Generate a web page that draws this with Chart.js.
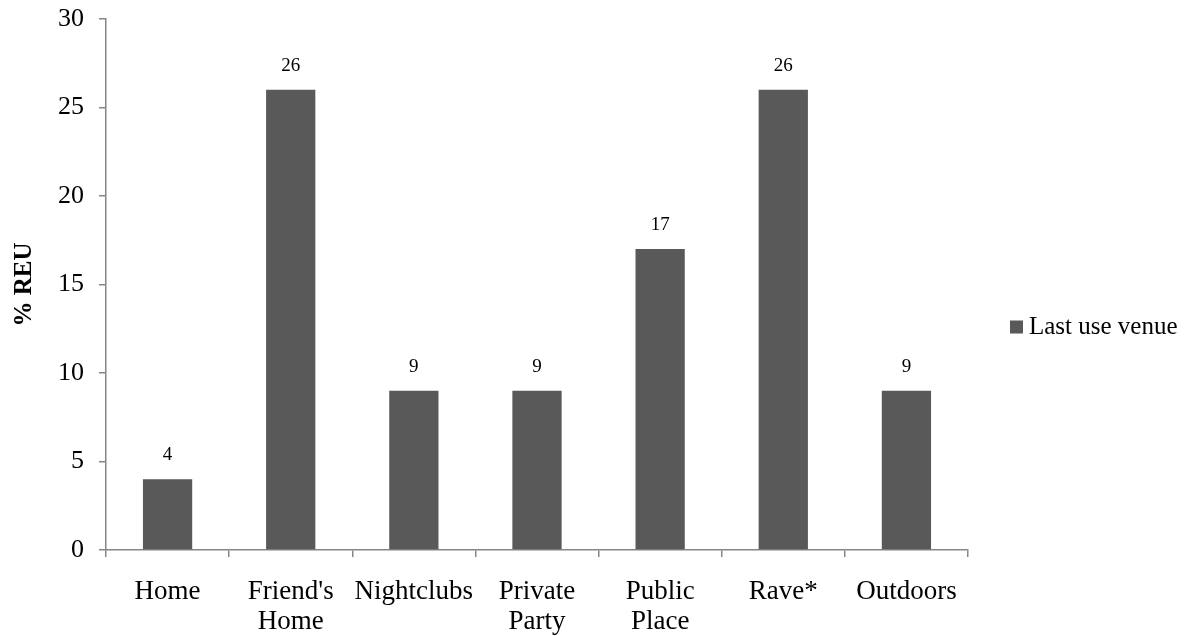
<!DOCTYPE html>
<html>
<head>
<meta charset="utf-8">
<script src="https://cdn.jsdelivr.net/npm/chart.js@4.4.1/dist/chart.umd.min.js"></script>
<style>
  html, body { margin: 0; padding: 0; background: #fff; }
  #wrap { width: 1192px; height: 636px; position: relative; }
</style>
</head>
<body>
<div id="wrap"><canvas id="c" width="1192" height="636"></canvas></div>
<script>
// Venue of last use, percent of respondents
const categories = [["Home"], ["Friend's", "Home"], ["Nightclubs"], ["Private", "Party"], ["Public", "Place"], ["Rave*"], ["Outdoors"]];
const venueShare = [4, 26, 9, 9, 17, 26, 9];
const seriesName = "Last use venue";
const yTicks = [0, 5, 10, 15, 20, 25, 30];

const FONT = "'Liberation Serif', 'DejaVu Serif', serif";
const BAR = "#595959";
const AXIS = "#868686";

// value labels above each bar
const valueLabels = {
  id: 'valueLabels',
  afterDatasetsDraw(chart) {
    const ctx = chart.ctx;
    const meta = chart.getDatasetMeta(0);
    ctx.save();
    ctx.font = "19px " + FONT;
    ctx.fillStyle = "#000";
    ctx.textAlign = "center";
    ctx.textBaseline = "middle";
    meta.data.forEach((bar, i) => {
      ctx.fillText(String(chart.data.datasets[0].data[i]), bar.x, bar.y - 24);
    });
    ctx.restore();
  }
};

// single-entry legend at the right, near the vertical middle of the canvas
const sideLegend = {
  id: 'sideLegend',
  afterDraw(chart) {
    const ctx = chart.ctx;
    const ds = chart.data.datasets[0];
    const x = chart.chartArea.right + 42;
    const y = chart.height / 2 + 9;
    ctx.save();
    ctx.fillStyle = ds.backgroundColor;
    ctx.fillRect(x, y - 6.5, 13, 13);
    ctx.font = "25px " + FONT;
    ctx.fillStyle = "#000";
    ctx.textAlign = "left";
    ctx.textBaseline = "middle";
    ctx.fillText(ds.label, x + 19, y);
    ctx.restore();
  }
};

new Chart(document.getElementById('c'), {
  type: 'bar',
  data: {
    labels: categories,
    datasets: [{
      label: seriesName,
      data: venueShare,
      backgroundColor: BAR,
      borderWidth: 0,
      barPercentage: 0.4,
      categoryPercentage: 1.0
    }]
  },
  options: {
    responsive: false,
    animation: false,
    devicePixelRatio: 1,
    layout: { padding: { left: 0, right: 224, top: 19, bottom: 0 } },
    plugins: {
      legend: { display: false },
      tooltip: { enabled: false }
    },
    scales: {
      x: {
        offset: true,
        grid: { display: true, offset: true, drawOnChartArea: false, drawTicks: true, tickLength: 7, color: AXIS, lineWidth: 1.5 },
        border: { display: true, color: AXIS, width: 1.5 },
        ticks: { color: "#000", font: { family: FONT, size: 27, lineHeight: 1.1 }, padding: 20, maxRotation: 0, autoSkip: false },
        afterFit(scale) { scale.height = 86; scale.paddingLeft = 0; scale.paddingRight = 0; }
      },
      y: {
        min: 0, max: 30,
        afterBuildTicks(scale) { scale.ticks = yTicks.map(v => ({ value: v })); },
        grid: { display: true, drawOnChartArea: false, drawTicks: true, tickLength: 7, color: AXIS, lineWidth: 1.5 },
        border: { display: true, color: AXIS, width: 1.5 },
        ticks: { color: "#000", font: { family: FONT, size: 26 }, padding: 15 },
        title: { display: true, text: "% REU", color: "#000", font: { family: FONT, size: 25, weight: 'bold' }, padding: { top: 10, bottom: 0 } },
        afterFit(scale) { scale.width = 106; scale.paddingTop = 0; scale.paddingBottom = 0; }
      }
    }
  },
  plugins: [valueLabels, sideLegend]
});
</script>
</body>
</html>
